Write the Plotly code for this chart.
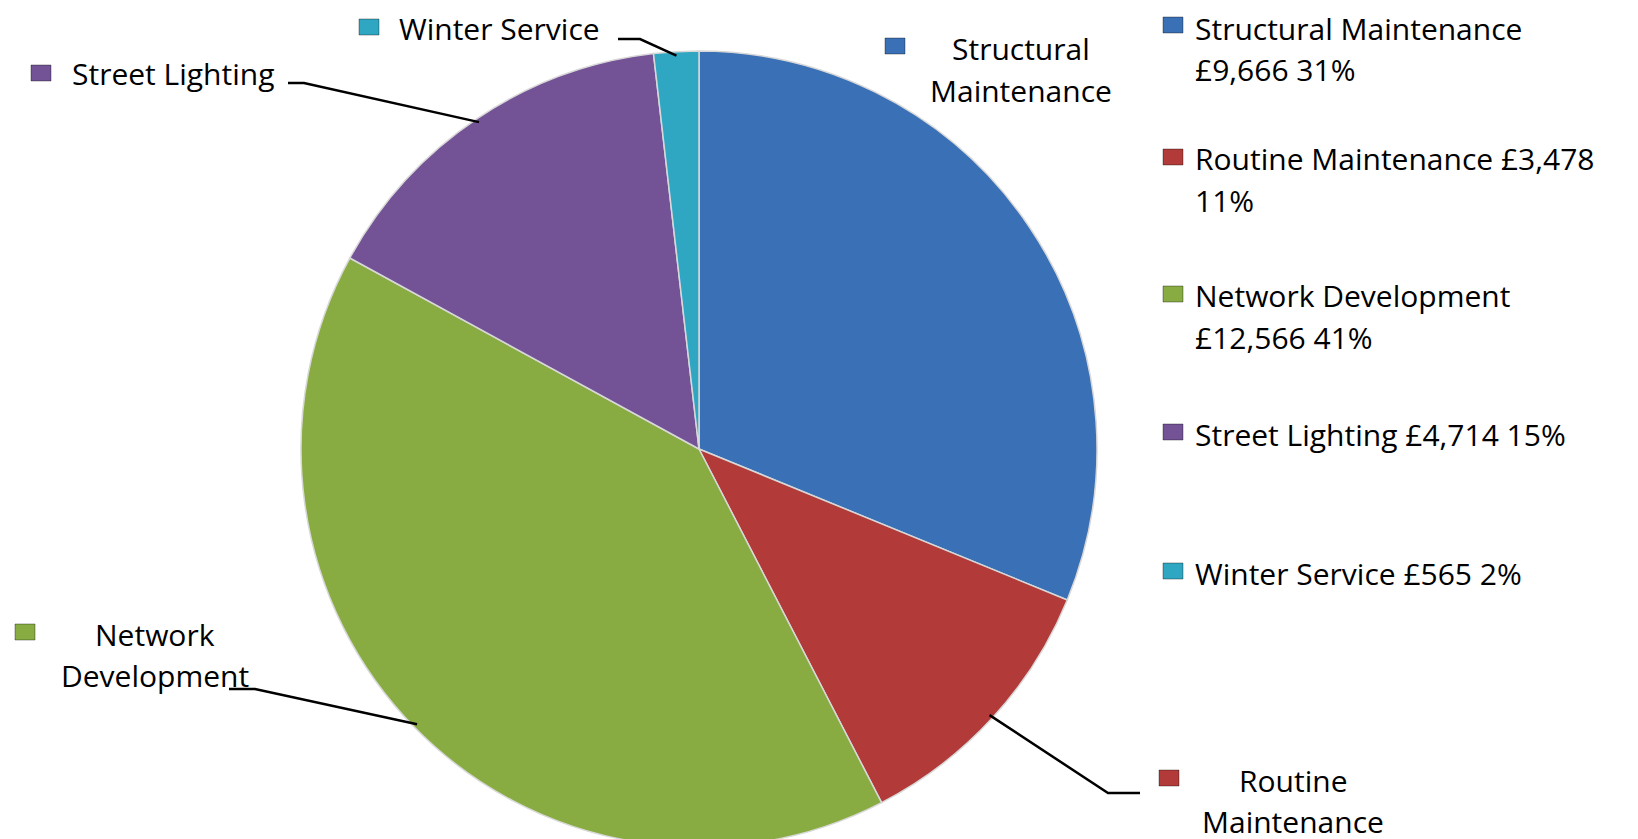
import math
import plotly.graph_objects as go

# ---------------- data ----------------
categories = ["Structural Maintenance", "Routine Maintenance", "Network Development",
              "Street Lighting", "Winter Service"]
values = [9666, 3478, 12566, 4714, 565]
percent_labels = ["31%", "11%", "41%", "15%", "2%"]
colors = ["#3A70B5", "#B23A38", "#88AC41", "#735396", "#2FA6C2"]

# data-label text lines (wrapped as in the chart)
slice_label_lines = [["Structural", "Maintenance"], ["Routine", "Maintenance"],
                     ["Network", "Development"], ["Street Lighting"], ["Winter Service"]]

# ---------------- layout constants (pixels) ----------------
W, H = 1638, 839
CX, CY, R = 691, 441, 398
FONT = "'Open Sans', Lato, sans-serif"
FS = 30
LINE = 41
DX, DY = -7, -6


def px(x):
    return (x + DX) / W


def py(y):
    return 1 - (y + DY) / H


fig = go.Figure()
fig.add_trace(go.Pie(
    labels=categories, values=values, sort=False, direction="clockwise", rotation=0,
    marker=dict(colors=colors, line=dict(color="#D8D8D8", width=1.5)),
    textinfo="none", hoverinfo="label+value+percent", showlegend=False,
    domain=dict(x=[(CX - R) / W, (CX + R) / W], y=[(H - CY - R) / H, (H - CY + R) / H]),
))

annotations = []
shapes = []

# slice mid angles (clockwise from 12 o'clock)
total = sum(values)
mids = []
cum = 0
for v in values:
    mids.append((cum + v / 2) / total * 2 * math.pi)
    cum += v


def edge_point(i, k=1.0):
    a = mids[i]
    return CX + R * k * math.sin(a) - DX, CY - R * k * math.cos(a) - DY


def add_text(x, y, text, anchor):
    annotations.append(dict(
        x=px(x), y=py(y), xref="paper", yref="paper", xanchor=anchor, yanchor="middle",
        text=text, showarrow=False, borderpad=0,
        font=dict(family=FONT, size=FS, color="#000000")))


def add_marker(x, y, color):
    shapes.append(dict(type="rect", xref="paper", yref="paper",
                       x0=px(x - 10), x1=px(x + 10), y0=py(y + 8), y1=py(y - 8),
                       fillcolor=color, line=dict(color="rgba(0,0,0,0.35)", width=1)))


# data labels: marker, text anchor x, first line y, elbow points
label_layout = [
    dict(mx=894, my=44, tx=1020, ty=47, anchor="center", elbow=None),
    dict(mx=1168, my=776, tx=1292, ty=778, anchor="center", elbow=[(1139, 791), (1107, 791)]),
    dict(mx=24, my=630, tx=154, ty=632, anchor="center", elbow=[(228, 687), (254, 687)]),
    dict(mx=40, my=71, tx=70, ty=71, anchor="left", elbow=[(287, 81), (303, 81)]),
    dict(mx=368, my=25, tx=397, ty=27, anchor="left", elbow=[(617, 37), (639, 37)]),
]

for i, L in enumerate(label_layout):
    add_marker(L["mx"], L["my"], colors[i])
    for j, line in enumerate(slice_label_lines[i]):
        add_text(L["tx"], L["ty"] + j * LINE, line, L["anchor"])
    if L["elbow"]:
        ex, ey = edge_point(i, 0.99)
        pts = L["elbow"] + [(ex, ey)]
        path = "M " + " L ".join(f"{px(x):.5f},{py(y):.5f}" for x, y in pts)
        shapes.append(dict(type="path", xref="paper", yref="paper", path=path,
                           line=dict(color="#000000", width=2.5)))

# legend (drawn manually to reproduce its spacing)
legend_lines = [
    [categories[0], f"£{values[0]:,} {percent_labels[0]}"],
    [f"{categories[1]} £{values[1]:,}", percent_labels[1]],
    [categories[2], f"£{values[2]:,} {percent_labels[2]}"],
    [f"{categories[3]} £{values[3]:,} {percent_labels[3]}"],
    [f"{categories[4]} £{values[4]:,} {percent_labels[4]}"],
]
legend_first_y = [27, 157, 294, 432, 571]
LEG_MX, LEG_TX = 1172, 1193
for i, lines in enumerate(legend_lines):
    y0 = legend_first_y[i]
    add_marker(LEG_MX, y0 - 4 if i == 0 else y0 - 2, colors[i])
    for j, line in enumerate(lines):
        add_text(LEG_TX, y0 + j * LINE, line, "left")

fig.update_layout(
    width=W, height=H, margin=dict(l=0, r=0, t=0, b=0),
    paper_bgcolor="white", plot_bgcolor="white",
    annotations=annotations, shapes=shapes, showlegend=False,
)

fig.write_html("out.html")
